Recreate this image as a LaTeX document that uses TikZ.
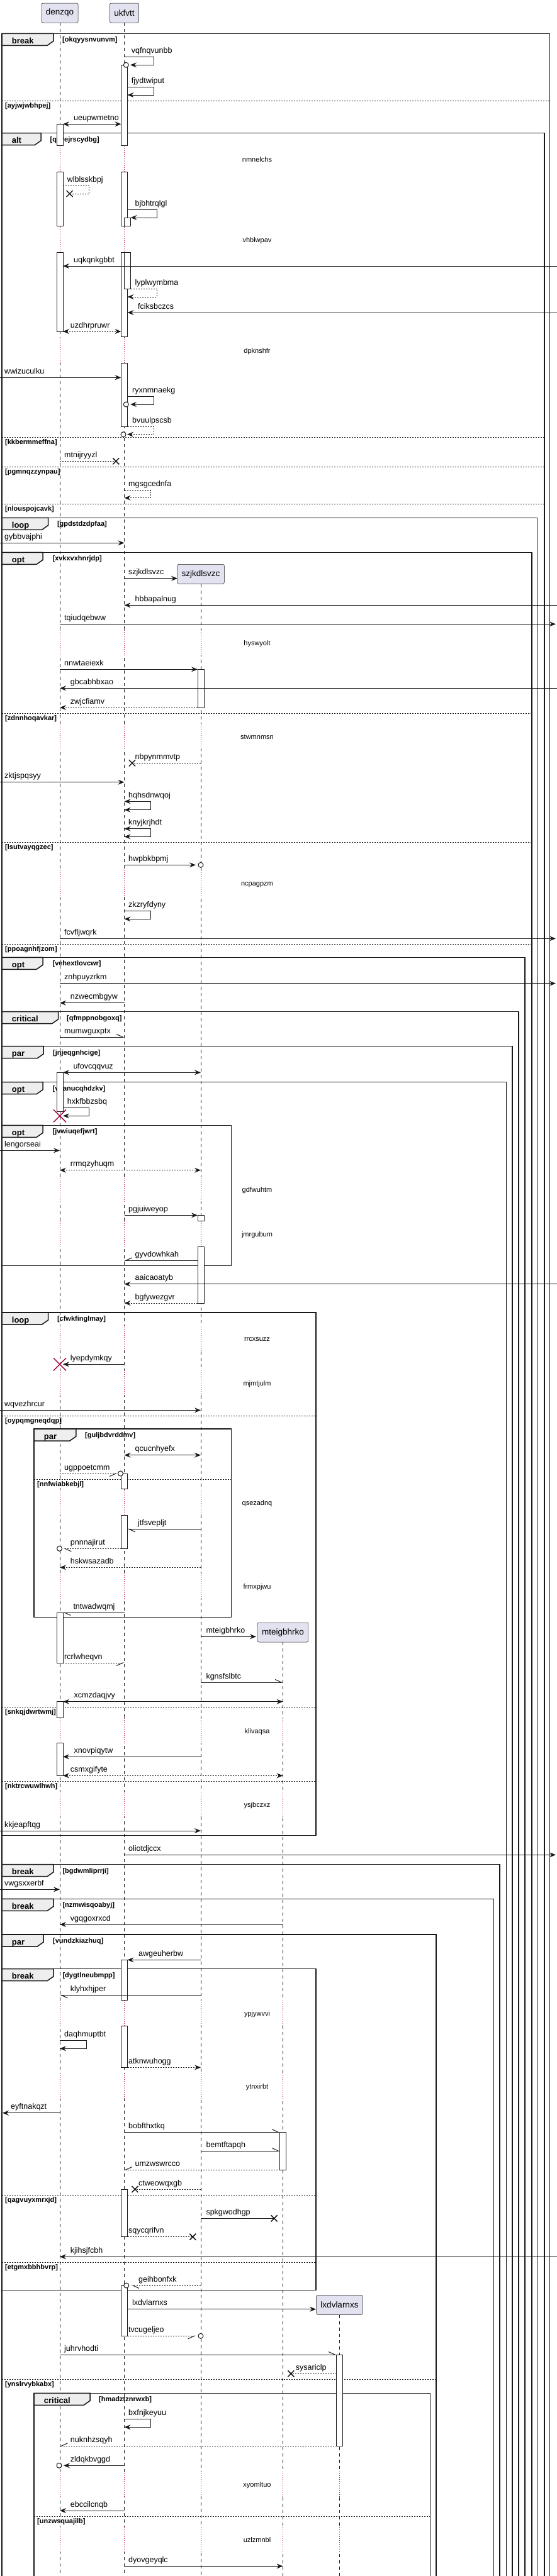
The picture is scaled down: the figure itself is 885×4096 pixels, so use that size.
\documentclass[tikz,border=0pt]{standalone}
\usepackage{fontspec}
\setmainfont{Liberation Sans}
\usetikzlibrary{arrows.meta}

\definecolor{umlline}{HTML}{181818}
\definecolor{umlbox}{HTML}{E2E2F0}
\definecolor{umltab}{HTML}{EEEEEE}
\definecolor{umlred}{HTML}{A80036}

% x of the lifelines
\newcommand{\xdz}{95}
\newcommand{\xuk}{197.5}
\newcommand{\xsz}{319}
\newcommand{\xmt}{449.5}
\newcommand{\xlx}{539.5}

\tikzset{
  partbox/.style={draw=umlline, fill=umlbox, line width=0.5pt, rounded corners=2.5pt,
    minimum height=31pt, inner xsep=7pt, font=\fontsize{13.5}{16}\selectfont},
  lifeline/.style={draw=umlline, line width=0.5pt, dash pattern=on 5pt off 5pt},
  delayline/.style={draw=umlred, line width=0.8pt, dash pattern=on 0.8pt off 2.2pt},
  grpline/.style={draw=umlline, line width=1.5pt},
  sepline/.style={draw=umlline, line width=1pt, dash pattern=on 2pt off 2pt},
  actbox/.style={draw=umlline, fill=white, line width=1pt},
  msgline/.style={draw=umlline, line width=1pt},
  reply/.style={dash pattern=on 2pt off 2pt},
  arr/.style={-{Stealth[length=10pt,width=8pt,inset=3.5pt]}},
  biarr/.style={{Stealth[length=10pt,width=8pt,inset=3.5pt]}-{Stealth[length=10pt,width=8pt,inset=3.5pt]}},
  half/.style={-{Straight Barb[harpoon,length=10pt,width=9pt]}},
  halfsw/.style={-{Straight Barb[harpoon,swap,length=10pt,width=9pt]}},
  msglabel/.style={anchor=base west, inner sep=0pt, font=\fontsize{12.5}{15}\selectfont},
  tabtext/.style={anchor=base west, inner sep=0pt, font=\bfseries\fontsize{13}{15}\selectfont},
  condtext/.style={anchor=base west, inner sep=0pt, font=\bfseries\fontsize{11}{13}\selectfont},
  delaytext/.style={anchor=base, inner sep=0pt, font=\fontsize{11}{13}\selectfont},
  destroy/.style={draw=umlred, line width=1.5pt},
}

% [style]{x from}{x to}{y}{label x}{label}
\newcommand{\umlmsg}[6][]{%
  \coordinate (#6-a) at (#2,#4);
  \coordinate (#6-b) at (#3,#4);
  \draw[msgline,#1] (#6-a) -- (#6-b);
  \node[msglabel] (#6) at (#5,#4-6) {#6};}
% [style]{x from}{x right}{y top}{y bottom}{x tip}{label x}{label}
\newcommand{\umlself}[8][]{%
  \coordinate (#8-a) at (#2,#4);
  \coordinate (#8-b) at (#6,#5);
  \draw[msgline,#1] (#8-a) -- (#3,#4) -- (#3,#5) -- (#8-b);
  \node[msglabel] (#8) at (#7,#4-6) {#8};}
\newcommand{\circend}[2]{\draw[msgline,fill=white] (#1,#2) circle[radius=4pt];}
\newcommand{\crossend}[2]{\draw[msgline,line width=1.5pt] (#1-5,#2-5) -- (#1+5,#2+5) (#1-5,#2+5) -- (#1+5,#2-5);}
\newcommand{\killmark}[2]{\draw[destroy] (#1-10,#2-10) -- (#1+10,#2+10) (#1-10,#2+10) -- (#1+10,#2-10);}
\newcommand{\actbar}[3]{\draw[actbox] (#1-5,#2) rectangle (#1+5,#3);}
% {y}{text}{lifelines}
\newcommand{\umldelay}[3]{%
  \foreach \lx in {#3} {
    \draw[white,line width=2pt] (\lx,#1-20) -- (\lx,#1+20);
    \draw[delayline] (\lx,#1-20) -- (\lx,#1+20);}
  \node[delaytext] (#2) at (408.5,#1+4) {#2};}
% {left}{right}{top}{bottom}{tab right}{kind}{cond x}{cond}
\newcommand{\umlgroup}[8]{%
  \draw[grpline] (#1,#3) rectangle (#2,#4);
  \draw[grpline,fill=umltab] (#1,#3) -- (#5,#3) -- (#5,#3+12) -- (#5-10,#3+19) -- (#1,#3+19) -- cycle;
  \node[tabtext] (tab-#8) at (#1+15.7,#3+16) {#6};
  \node[condtext] (#8) at (#7,#3+13.5) {[#8]};}
% {left}{right}{y}{cond}
\newcommand{\umlelse}[4]{%
  \draw[sepline] (#1,#3) -- (#2,#3);
  \node[condtext] (#4) at (#1+5,#3+11) {[#4]};}

\begin{document}
\begin{tikzpicture}[x=1pt,y=-1pt]
\useasboundingbox (0,0) rectangle (885,4096);

% participants
\node[partbox] (p-denzqo) at (\xdz,20.5) {denzqo};
\node[partbox] (p-ukfvtt) at (\xuk,20.5) {ukfvtt};
\node[partbox] (p-szjkdlsvzc) at (\xsz,912.8) {szjkdlsvzc};
\node[partbox] (p-mteigbhrko) at (\xmt,2595.5) {mteigbhrko};
\node[partbox] (p-lxdvlarnxs) at (\xlx,3664.8) {lxdvlarnxs};

% lifelines
\foreach \p in {denzqo,ukfvtt,szjkdlsvzc,mteigbhrko,lxdvlarnxs}
  \draw[lifeline] (p-\p.south) -- (p-\p.south |- 0,4096);

% delays
\umldelay{253}{nmnelchs}{\xdz,\xuk}
\umldelay{381}{vhblwpav}{\xdz,\xuk}
\umldelay{557}{dpknshfr}{\xdz,\xuk}
\umldelay{1022}{hyswyolt}{\xdz,\xuk,\xsz}
\umldelay{1171}{stwmnmsn}{\xdz,\xuk,\xsz}
\umldelay{1404}{ncpagpzm}{\xdz,\xuk,\xsz}
\umldelay{1891}{gdfwuhtm}{\xdz,\xuk,\xsz}
\umldelay{1962}{jmrgubum}{\xdz,\xuk,\xsz}
\umldelay{2128}{rrcxsuzz}{\xdz,\xuk,\xsz}
\umldelay{2199}{mjmtjulm}{\xdz,\xuk,\xsz}
\umldelay{2389}{qsezadnq}{\xdz,\xuk,\xsz}
\umldelay{2522}{frmxpjwu}{\xdz,\xuk,\xsz}
\umldelay{2752}{klivaqsa}{\xdz,\xuk,\xsz,\xmt}
\umldelay{2869}{ysjbczxz}{\xdz,\xuk,\xsz,\xmt}
\umldelay{3201}{ypjywvvi}{\xdz,\xuk,\xsz,\xmt}
\umldelay{3317}{ytnxirbt}{\xdz,\xuk,\xsz,\xmt}
\umldelay{3950}{xyomltuo}{\xdz,\xuk,\xsz,\xmt,\xlx}
\umldelay{4038}{uzlzmnbl}{\xdz,\xuk,\xsz,\xmt,\xlx}

% groups, outer ones first
\umlgroup{3}{873.6}{53.3}{4100}{85}{break}{99}{okqyysnvunvm}
\umlelse{3}{873.6}{160}{ayjwjwbhpej}
\umlgroup{3}{865}{211.7}{4100}{65}{alt}{79.4}{qyvejrscydbg}
\umlelse{3}{865}{695.7}{kkbermmeffna}
\umlelse{3}{865}{742.3}{pgmnqzzynpau}
\umlelse{3}{865}{801.3}{nlouspojcavk}
\umlgroup{3}{853.7}{823.3}{4100}{76.6}{loop}{90.8}{gpdstdzdpfaa}
\umlgroup{3}{845.2}{878.3}{4100}{68}{opt}{83.4}{xvkxvxhnrjdp}
\umlelse{3}{845.2}{1134.3}{zdnnhoqavkar}
\umlelse{3}{845.2}{1339.3}{lsutvayqgzec}
\umlelse{3}{845.2}{1501.3}{ppoagnhfjzom}
\umlgroup{3}{833.8}{1522.3}{4100}{68}{opt}{83.4}{vehextlovcwr}
\umlgroup{3}{824.2}{1608.7}{4100}{92.5}{critical}{106}{qfmppnobgoxq}
\umlgroup{3}{814}{1663.7}{4100}{69.2}{par}{84}{jnjeqgnhcige}
\umlgroup{3}{804.3}{1720.7}{4100}{68}{opt}{83.4}{vpanucqhdzkv}
\umlgroup{3}{367.6}{1789.3}{2012.3}{68}{opt}{83.4}{jvwiuqefjwrt}
\umlgroup{3}{502}{2087}{2918.7}{76.6}{loop}{90.8}{cfwkfinglmay}
\umlelse{3}{502}{2251.3}{oypqmgneqdqp}
\umlelse{3}{502}{2714.7}{snkqjdwrtwmj}
\umlelse{3}{502}{2832.7}{nktrcwuwlhwh}
\umlgroup{54}{367.6}{2272}{2571.7}{120.8}{par}{135}{guljbdvrddmv}
\umlelse{54}{367.6}{2352.3}{nnfwiabkebjl}
\umlgroup{3}{794.1}{2964.7}{4100}{85}{break}{99.3}{bgdwmliprrji}
\umlgroup{3}{784.5}{3019.3}{4100}{85}{break}{99.3}{nzmwisqoabyj}
\umlgroup{3}{693.1}{3076}{4100}{69.2}{par}{84}{vundzkiazhuq}
\umlelse{3}{693.1}{3783.7}{ynslrvybkabx}
\umlgroup{3}{502}{3130.7}{3641.7}{85}{break}{99.3}{dygtlneubmpp}
\umlelse{3}{502}{3490.7}{qagvuyxmrxjd}
\umlelse{3}{502}{3597.3}{etgmxbbhbvrp}
\umlgroup{54}{683.5}{3805.3}{4100}{143}{critical}{157}{hmadztznrwxb}
\umlelse{54}{683.5}{4001.3}{unzwsquajilb}

% activations
\actbar{\xuk}{103.3}{231} \actbar{\xuk}{273}{359.3} \actbar{\xuk}{401.3}{535.3}
\actbar{\xuk+5}{346}{359.3} \actbar{\xuk+5}{401.3}{459.3}
\actbar{\xuk}{577}{678.7}
\actbar{\xuk}{2343}{2367} \actbar{\xuk}{2409}{2462.3}
\actbar{\xuk}{3116.3}{3180.7} \actbar{\xuk}{3221.3}{3287.3}
\actbar{\xuk}{3481}{3556.7}
\actbar{\xuk}{3634}{3714.3}
\actbar{\xdz}{197.3}{231} \actbar{\xdz}{273}{359.3} \actbar{\xdz}{401.3}{527}
\actbar{\xdz}{1705.3}{1767.3}
\actbar{\xdz}{2564}{2644}
\actbar{\xdz}{2705.7}{2731} \actbar{\xdz}{2771}{2823.3}
\actbar{\xsz}{1064.3}{1125}
\actbar{\xsz}{1932.3}{1941} \actbar{\xsz}{1982.7}{2072}
\actbar{\xmt}{3390.3}{3450}
\actbar{\xlx}{3744}{3889.3}

% messages
\umlself[arr]{\xuk}{244}{90}{103.3}{207}{208.7}{vqfnqvunbb}
\circend{200.3}{103.3}
\umlself[arr]{\xuk+5}{244}{138.3}{151}{\xuk+5}{208.7}{fjydtwiput}
\umlmsg[biarr]{\xdz+5}{\xuk-5}{197.3}{117}{ueupwmetno}
\umlself[reply]{\xdz+5}{141.8}{295}{308}{110.6}{106.6}{wlblsskbpj}
\crossend{110.6}{308}
\umlself[arr]{\xuk+5}{249.6}{333.3}{346}{\xuk+10}{214.4}{bjbhtrqlgl}
\umlmsg[arr]{885}{\xdz+5}{423}{117}{uqkqnkgbbt}
\umlself[reply,arr]{\xuk+10}{249.6}{459.3}{472}{\xuk+5}{214.4}{lyplwymbma}
\umlmsg[arr]{885}{\xuk+5}{497}{219}{fciksbczcs}
\umlmsg[reply,biarr]{\xdz+5}{\xuk-5}{527}{111.7}{uzdhrpruwr}
\umlmsg[arr]{0}{\xuk-5}{600.3}{6.8}{wwizuculku}
\umlself[arr]{\xuk+5}{244}{630.3}{643}{207}{210}{ryxnmnaekg}
\circend{200.3}{643}
\umlself[reply,arr]{\xuk+5}{244}{678}{690.7}{202}{210}{bvuulpscsb}
\circend{196}{690.7}
\umlmsg[reply]{\xdz}{184.3}{733.3}{102}{mtnijryyzl}
\crossend{184.3}{733.3}
\umlself[reply,arr]{\xuk}{239.4}{779.7}{791.7}{\xuk}{204}{mgsgcednfa}
\umlmsg[arr]{0}{\xuk}{863.3}{7}{gybbvajphi}
\umlmsg[arr]{\xuk}{282}{919.7}{204}{szjkdlsvzc}
\umlmsg[arr]{885}{\xuk}{962.3}{214.4}{hbbapalnug}
\umlmsg[arr]{\xdz}{883}{992.3}{102}{tqiudqebww}
\umlmsg[arr]{\xdz}{\xsz-5}{1064.3}{102}{nnwtaeiexk}
\umlmsg[arr]{885}{\xdz}{1094.3}{111.7}{gbcabhbxao}
\umlmsg[reply,arr]{\xsz-5}{\xdz}{1125}{111.7}{zwjcfiamv}
\umlmsg[reply]{\xsz}{210}{1213.3}{214.4}{nbpynmmvtp}
\crossend{210}{1213.3}
\umlmsg[arr]{0}{\xuk}{1243.7}{7}{zktjspqsyy}
\umlself[biarr]{\xuk}{239.4}{1274.3}{1287.7}{\xuk}{204}{hqhsdnwqoj}
\umlself[biarr]{\xuk}{239.4}{1317.7}{1330.3}{\xuk}{204}{knyjkrjhdt}
\umlmsg[arr]{\xuk}{311}{1375.3}{204}{hwpbkbpmj}
\circend{\xsz}{1375.3}
\umlself[arr]{\xuk}{239.4}{1448}{1461.3}{\xuk}{204}{zkzryfdyny}
\umlmsg[arr]{\xdz}{883}{1492.3}{102}{fcvfljwqrk}
\umlmsg[arr]{\xdz}{883}{1563.7}{102}{znhpuyzrkm}
\umlmsg[arr]{\xuk}{\xdz}{1594.7}{111.7}{nzwecmbgyw}
\umlmsg[half]{\xdz}{\xuk}{1649}{102}{mumwguxptx}
\umlmsg[biarr]{\xdz+5}{\xsz}{1705.3}{116.3}{ufovcqqvuz}
\umlself[arr]{\xdz+5}{141.8}{1761.7}{1774.3}{\xdz+5}{106.6}{hxkfbbzsbq}
\killmark{\xdz}{1774.3}
\umlmsg[arr]{0}{\xdz}{1829.3}{7}{lengorseai}
\umlmsg[reply,biarr]{\xdz}{\xsz}{1860.7}{111.7}{rrmqzyhuqm}
\umlmsg[arr]{\xuk}{\xsz-5}{1932.3}{204}{pgjuiweyop}
\umlmsg[halfsw]{\xsz-5}{\xuk}{2004.3}{214.4}{gyvdowhkah}
\umlmsg[arr]{885}{\xuk}{2041.7}{214.4}{aaicaoatyb}
\umlmsg[reply,arr]{\xsz-5}{\xuk}{2072}{214.4}{bgfywezgvr}
\umlmsg[arr]{\xuk}{100}{2169.3}{111.7}{lyepdymkqy}
\killmark{\xdz}{2169.3}
\umlmsg[arr]{0}{\xsz}{2242.3}{7}{wqvezhrcur}
\umlmsg[biarr]{\xuk}{\xsz}{2313.7}{214.4}{qcucnhyefx}
\umlmsg[reply,halfsw]{\xdz}{186.5}{2343}{102}{ugppoetcmm}
\circend{191.5}{2343}
\umlmsg[half]{\xsz}{\xuk+5}{2431.3}{219}{jtfsvepljt}
\umlmsg[reply,half]{\xuk-5}{101}{2462.3}{111.7}{pnnnajirut}
\circend{94.5}{2462.3}
\umlmsg[reply,arr]{\xsz}{\xdz}{2492.3}{111.7}{hskwsazadb}
\umlmsg[half]{\xuk}{\xdz+5}{2564}{116.3}{tntwadwqmj}
\umlmsg[arr]{\xsz}{407}{2602.3}{327.3}{mteigbhrko}
\umlmsg[reply,halfsw]{\xdz+5}{\xuk}{2644}{102}{rcrlwheqvn}
\umlmsg[half]{\xsz}{\xmt}{2675}{327.3}{kgnsfslbtc}
\umlmsg[biarr]{\xdz+5}{\xmt}{2705.7}{117.4}{xcmzdaqjvy}
\umlmsg[arr]{\xsz}{\xdz+5}{2793.3}{117.4}{xnovpiqytw}
\umlmsg[reply,biarr]{\xdz+5}{\xmt}{2823.3}{111.7}{csmxgifyte}
\umlmsg[arr]{0}{\xsz}{2911}{7}{kkjeapftqg}
\umlmsg[arr]{\xuk}{883}{2949.3}{204}{oliotdjccx}
\umlmsg[arr]{0}{\xdz}{3004.3}{7}{vwgsxxerbf}
\umlmsg[arr]{\xmt}{\xdz}{3060}{111.7}{vgqgoxrxcd}
\umlmsg[arr]{\xsz}{\xuk+5}{3116.3}{220}{awgeuherbw}
\umlmsg[half]{\xsz}{\xdz}{3172.3}{111.7}{klyhxhjper}
\umlself[arr]{\xdz}{137.3}{3244}{3257.3}{\xdz}{102}{daqhmuptbt}
\umlmsg[reply,arr]{\xuk+5}{\xsz}{3287.3}{204}{atknwuhogg}
\umlmsg[arr]{\xdz}{4}{3359.7}{17}{eyftnakqzt}
\umlmsg[half]{\xuk}{\xmt-5}{3390.3}{204}{bobfthxtkq}
\umlmsg[half]{\xsz}{\xmt-5}{3420}{327.3}{bemtftapqh}
\umlmsg[reply,halfsw]{\xmt-5}{\xuk}{3450}{214.4}{umzwswrcco}
\umlmsg[reply]{\xsz}{214.4}{3481}{220}{ctweowqxgb}
\crossend{214.4}{3481}
\umlmsg{\xsz}{435.6}{3527.3}{327.3}{spkgwodhgp}
\crossend{435.6}{3527.3}
\umlmsg[reply]{\xuk+5}{306.3}{3556.7}{204}{sqycqrifvn}
\crossend{306.3}{3556.7}
\umlmsg[arr]{885}{\xdz}{3588.3}{111.7}{kjihsjfcbh}
\umlmsg[reply,half]{\xsz}{208.7}{3634}{220}{geihbonfxk}
\circend{200.8}{3634}
\umlmsg[arr]{\xuk+5}{502}{3671.7}{210}{lxdvlarnxs}
\umlmsg[reply,halfsw]{\xuk+5}{311}{3714.3}{204}{tvcugeljeo}
\circend{\xsz}{3714.3}
\umlmsg[half]{\xdz}{\xlx-5}{3744}{102}{juhrvhodti}
\umlmsg[reply]{\xlx-5}{462.3}{3774.3}{469.7}{sysariclp}
\crossend{462.3}{3774.3}
\umlself[arr]{\xuk}{239.4}{3846.3}{3859.3}{\xuk}{204}{bxfnjkeyuu}
\umlmsg[reply,halfsw]{\xlx-5}{\xdz}{3889.3}{111.7}{nuknhzsqyh}
\umlmsg[arr]{\xuk}{101}{3920.3}{111.7}{zldqkbvggd}
\circend{94}{3920.3}
\umlmsg[arr]{\xuk}{\xdz}{3992}{111.7}{ebccilcnqb}
\umlmsg[arr]{\xuk}{\xmt}{4080.3}{204}{dyovgeyqlc}
\end{tikzpicture}
\end{document}
